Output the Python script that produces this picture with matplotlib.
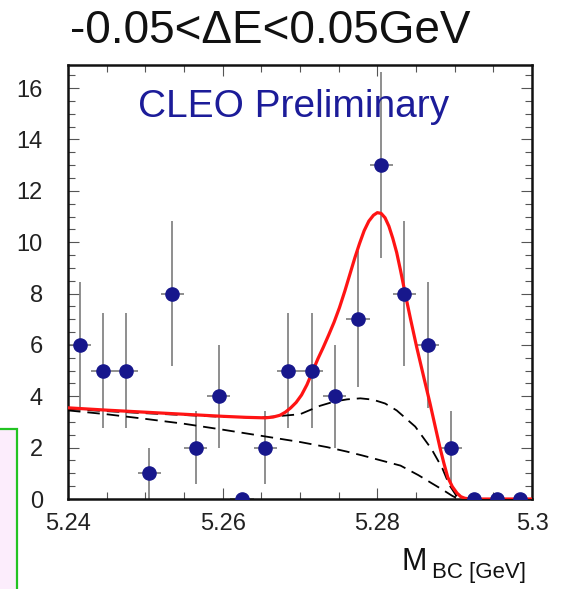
import matplotlib
matplotlib.use("Agg")
import matplotlib.pyplot as plt
from matplotlib.patches import Rectangle
from matplotlib.ticker import FixedLocator, FixedFormatter, MultipleLocator

plt.rcParams['font.family'] = ['Liberation Sans', 'DejaVu Sans']
plt.rcParams['lines.scale_dashes'] = False

# Histogram of beam-constrained mass, 3 MeV bins
bin_centers = [5.2415, 5.2445, 5.2475, 5.2505, 5.2535, 5.2565, 5.2595, 5.2625,
               5.2655, 5.2685, 5.2715, 5.2745, 5.2775, 5.2805, 5.2835, 5.2865,
               5.2895, 5.2925, 5.2955, 5.2985]
counts = [6, 5, 5, 1, 8, 2, 4, 0, 2, 5, 5, 4, 7, 13, 8, 6, 2, 0, 0, 0]
count_errors = [2.45, 2.24, 2.24, 1.00, 2.83, 1.41, 2.00, 0.00, 1.41, 2.24,
                2.24, 2.00, 2.65, 3.61, 2.83, 2.45, 1.41, 0.00, 0.00, 0.00]
bin_half_width = 0.0015

# Total fit (signal + backgrounds)
fit_x = [5.2400, 5.2450, 5.2500, 5.2550, 5.2600, 5.2630, 5.2655, 5.2665, 5.2674,
         5.2681, 5.2688, 5.2695, 5.2702, 5.2709, 5.2716, 5.2723, 5.2730, 5.2737,
         5.2744, 5.2751, 5.2758, 5.2765, 5.2771, 5.2777, 5.2783, 5.2789, 5.2795,
         5.2800, 5.2805, 5.2810, 5.2815, 5.2820, 5.2825, 5.2830, 5.2836, 5.2843,
         5.2851, 5.2860, 5.2868, 5.2875, 5.2881, 5.2886, 5.2891, 5.2897, 5.2903,
         5.2908, 5.2913, 5.2920, 5.3000]
fit_total = [3.55, 3.46, 3.38, 3.30, 3.22, 3.18, 3.16, 3.19, 3.26,
             3.38, 3.55, 3.76, 4.05, 4.45, 4.95, 5.45, 5.90, 6.38,
             6.88, 7.45, 8.10, 8.80, 9.40, 9.95, 10.45, 10.82, 11.05,
             11.15, 11.12, 10.95, 10.62, 10.15, 9.60, 8.90, 8.00, 7.00,
             5.90, 4.75, 3.74, 2.80, 2.00, 1.40, 0.85, 0.48, 0.23,
             0.09, 0.03, 0.00, 0.00]

# Background including peaking component
bkg_x = [5.2400, 5.2450, 5.2500, 5.2550, 5.2600, 5.2650, 5.2700, 5.2726, 5.2745,
         5.2761, 5.2778, 5.2794, 5.2810, 5.2825, 5.2849, 5.2870, 5.2884, 5.2893,
         5.2905]
bkg_total = [3.50, 3.42, 3.34, 3.27, 3.20, 3.17, 3.30, 3.63, 3.80,
             3.88, 3.92, 3.87, 3.72, 3.45, 2.82, 1.95, 1.20, 0.55,
             0.00]

# Combinatoric (ARGUS-like) background
comb_x = [5.2400, 5.2450, 5.2500, 5.2550, 5.2600, 5.2650, 5.2700, 5.2735, 5.2760,
          5.2780, 5.2805, 5.2830, 5.2853, 5.2870, 5.2885, 5.2897, 5.2905]
comb_bkg = [3.45, 3.30, 3.12, 2.93, 2.70, 2.46, 2.22, 2.02, 1.85,
            1.70, 1.50, 1.30, 0.93, 0.62, 0.35, 0.12, 0.00]

xtick_values = [5.24, 5.26, 5.28, 5.30]
xtick_labels = ['5.24', '5.26', '5.28', '5.3']
ytick_values = [0, 2, 4, 6, 8, 10, 12, 14, 16]
ytick_labels = ['0', '2', '4', '6', '8', '10', '12', '14', '16']

W, H = 572, 589
fig = plt.figure(figsize=(W / 100, H / 100), dpi=100)
fig.patch.set_facecolor('white')

ax = fig.add_axes([68 / W, 1 - 499 / H, 464 / W, 434 / H])
ax.set_xlim(5.24, 5.30)
ax.set_ylim(0, 16.9)

ax.errorbar(bin_centers, counts, yerr=count_errors, xerr=bin_half_width,
            fmt='none', ecolor='#707070', elinewidth=1.1, capsize=0, zorder=2)
ax.plot(comb_x, comb_bkg, color='black', lw=1.3, ls=(0, (9, 5)), zorder=3)
ax.plot(bkg_x, bkg_total, color='black', lw=1.3, ls=(0, (9, 5)), zorder=3)
ax.plot(fit_x, fit_total, color='#ff1414', lw=2.3, zorder=4,
        solid_joinstyle='round')
ax.plot(bin_centers, counts, 'o', ms=9.5, color='#17178c', mec='#17178c', zorder=5)

ax.xaxis.set_major_locator(FixedLocator(xtick_values))
ax.xaxis.set_major_formatter(FixedFormatter(xtick_labels))
ax.xaxis.set_minor_locator(MultipleLocator(0.005))
ax.yaxis.set_major_locator(FixedLocator(ytick_values))
ax.yaxis.set_major_formatter(FixedFormatter(ytick_labels))
ax.yaxis.set_minor_locator(MultipleLocator(0.5))

ax.tick_params(which='both', direction='in', top=True, right=True,
               color='#555555', width=0.8, labelsize=17, labelcolor='#222222')
ax.tick_params(which='major', length=8)
ax.tick_params(which='minor', length=5)
ax.tick_params(axis='y', which='major', pad=18)
ax.tick_params(axis='x', which='major', pad=10)

for s in ax.spines.values():
    s.set_linewidth(1.8)
    s.set_color('#111111')

fig.text(270 / W, 1 - 43 / H, '-0.05<ΔE<0.05GeV', fontsize=33,
         ha='center', va='baseline', color='#111111')
fig.text(138 / W, 1 - 117 / H, 'CLEO Preliminary', fontsize=28,
         ha='left', va='baseline', color='#1c1c99')
fig.text(402 / W, 1 - 570 / H, 'M', fontsize=22, ha='left', va='baseline',
         color='#111111')
fig.text(432 / W, 1 - 578 / H, 'BC [GeV]', fontsize=16, ha='left',
         va='baseline', color='#111111')

fig.patches.append(Rectangle((-0.02, -0.02), 17 / W + 0.02, (H - 429) / H + 0.02,
                             transform=fig.transFigure, facecolor='#fcedfc',
                             edgecolor='#22c322', lw=1.6, zorder=0))

fig.savefig('out.png', dpi=100)
